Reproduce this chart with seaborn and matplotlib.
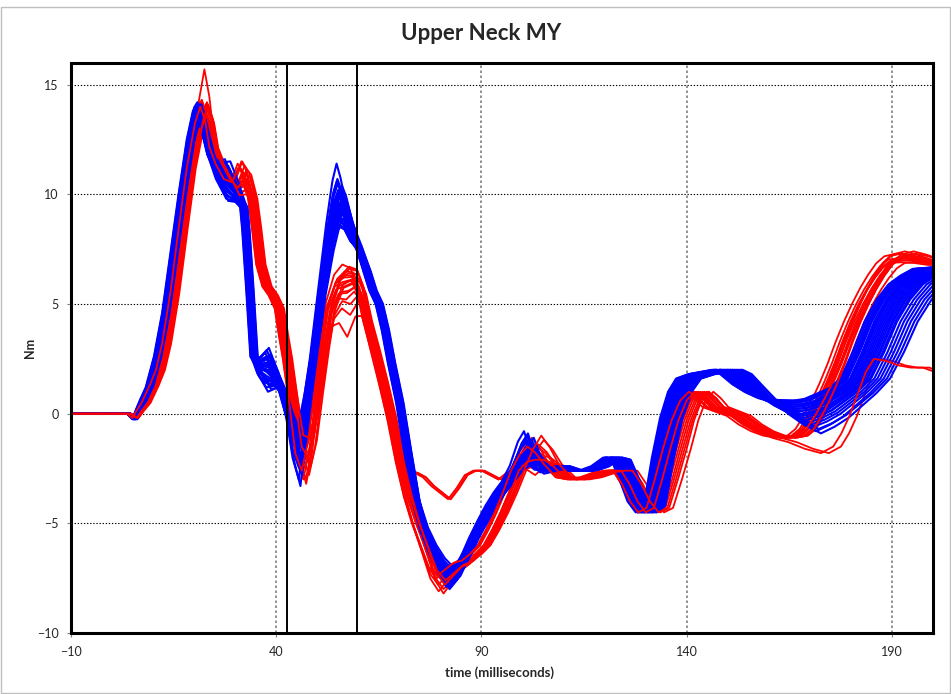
import numpy as np
import pandas as pd
import matplotlib
matplotlib.use("Agg")
import matplotlib.pyplot as plt
from matplotlib.patches import Rectangle
import seaborn as sns

sns.set_theme(style="white")
plt.rcParams["font.family"] = ["Lato", "DejaVu Sans"]

# ---------------------------------------------------------------- axes setup
x_ticks = [-10, 40, 90, 140, 190]
y_ticks = [-10, -5, 0, 5, 10, 15]
marker_times = [42.5, 59.7]

# ---------------------------------------------------------------- blue group
# typical blue trace: time (ms), moment (Nm)
blue_t = [-10, 4, 5.5, 6.5, 7.5, 9, 11, 13, 15, 17, 19, 20.5, 21.3, 22.5, 24, 26,
          28, 30, 32, 32.5, 33.5, 34.5, 36, 38, 40, 41.5, 43, 44.5, 46, 47.5, 49,
          51, 53, 54.5, 55.5, 56.5, 58, 60, 62, 63.5, 65, 66.5, 68, 70, 72, 74,
          76, 78, 80, 82, 84, 86, 88, 90, 92, 94, 96, 98, 100, 101.5, 103, 106,
          109, 112, 115, 118, 121, 123, 125, 127, 129, 131, 133, 135, 137, 139,
          142, 145, 148, 150, 153, 156, 159, 162, 165, 168, 171, 174, 177, 180,
          183, 186, 189, 192, 195, 198, 205, 215]
blue_v = [0, 0, -0.25, 0.2, 0.6, 1.2, 2.6, 4.6, 7.3, 10.0, 12.5, 13.8, 14.0, 13.0,
          11.8, 11.0, 10.6, 10.1, 9.4, 8.4, 5.6, 2.6, 2.1, 2.0, 1.6, 1.0, 0.0,
          -1.0, -1.2, 0.5, 2.5, 5.5, 8.0, 9.5, 10.0, 9.6, 8.6, 7.6, 6.5, 5.6, 5.0,
          3.8, 2.3, 0.5, -1.8, -4.0, -5.3, -6.2, -6.9, -7.4, -7.1, -6.4, -5.6,
          -4.9, -4.2, -3.6, -3.1, -2.5, -1.9, -1.8, -2.3, -2.6, -2.4, -2.6, -2.6,
          -2.4, -2.0, -2.1, -3.0, -4.0, -4.5, -4.2, -2.0, -0.2, 1.0, 1.6, 1.8, 1.9,
          2.0, 1.8, 1.3, 0.9, 0.6, 0.4, 0.3, 0.35, 0.5, 0.8, 1.1, 1.6, 2.8, 4.2,
          5.2, 5.9, 6.3, 6.6, 6.7, 6.7]

# per-trace readings for the blue group
blue_lag_rise = [-0.8, -0.6, -0.5, -0.4, -0.3, -0.2, -0.1, 0.0, 0.0, 0.1, 0.2, 0.2, 0.3, 0.4,
                 0.5, 0.6, 0.7, 0.8, 1.0, -0.7, -0.3, 0.1, 0.3, 0.5, 0.9, -0.5, 0.0, 0.6]
blue_lag_mid = [-1.5, 0.5, -1.0, 2.0, 0.0, 3.0, -0.5, 1.0, 2.5, -1.2, 1.5, 3.5, 0.2, -0.8,
                4.0, 0.8, 1.8, 2.8, 0.3, -0.3, 1.2, 2.2, 3.2, -1.0, 0.6, 1.6, 2.6, 3.8]
blue_lag_end = [-3.0, 1.0, -2.0, 5.0, 0.0, 8.0, -1.0, 2.0, 6.0, -2.5, 3.0, 10.0, 0.5, -1.5,
                12.0, 1.5, 4.0, 7.0, -0.5, -2.0, 2.5, 4.5, 9.0, -1.0, 0.0, 3.5, 5.5, 11.0]
blue_peak1 = [14.0, 13.8, 14.2, 13.6, 13.9, 13.4, 14.1, 13.7, 13.5, 14.0, 13.8, 13.3, 13.9, 14.1,
              13.2, 13.7, 13.6, 13.5, 13.8, 14.0, 13.9, 13.6, 13.4, 14.1, 13.7, 13.8, 13.5, 13.4]
blue_shelf = [11.2, 10.4, 11.6, 10.0, 10.8, 9.8, 11.4, 10.6, 10.2, 11.0, 10.5, 9.9, 11.3, 10.7,
              10.1, 10.9, 10.3, 11.5, 10.6, 10.0, 11.1, 10.4, 9.7, 11.2, 10.8, 10.2, 10.6, 11.0]
blue_floor = [2.0, 1.4, 2.6, 1.2, 2.9, 1.7, 2.3, 1.0, 2.5, 1.9, 3.0, 1.5, 2.2, 1.3, 2.7, 1.8,
              2.4, 1.1, 2.1, 2.8, 1.6, 2.0, 1.3, 2.6, 1.9, 2.3, 1.5, 2.2]
blue_dip1 = [-1.0, -0.5, -1.8, -2.5, -0.8, -1.2, -3.3, -0.4, -1.5, -2.0, -0.9, -1.3, -2.8, -0.6,
             -1.1, -1.6, -0.3, -2.2, -1.0, -1.4, -0.7, -1.9, -2.4, -0.5, -1.2, -3.0, -0.8, -1.7]
blue_peak2 = [11.4, 10.7, 10.5, 10.2, 9.9, 9.6, 9.3, 9.0, 8.8, 8.5, 10.0, 9.7, 9.4, 9.1,
              10.3, 9.8, 9.5, 9.2, 8.9, 10.6, 10.1, 9.6, 8.7, 10.4, 9.9, 9.0, 8.6, 9.3]
blue_min2 = [-7.6, -7.4, -7.9, -7.2, -7.5, -7.0, -7.8, -7.3, -7.6, -7.1, -7.7, -7.4, -7.5, -7.9,
             -7.2, -7.3, -7.6, -7.0, -7.8, -7.5, -7.4, -7.1, -7.7, -8.0, -7.3, -7.6, -7.2, -7.5]
blue_bump = [-0.8, -1.6, -2.0, -1.2, -2.2, -1.5, -1.0, -1.9, -2.4, -1.3, -1.7, -2.1, -1.4, -0.9,
             -2.3, -1.8, -1.1, -2.0, -1.6, -1.2, -2.2, -1.5, -1.9, -1.0, -1.7, -2.1, -1.4, -2.5]
blue_valley = [0.6, 0.3, 0.5, -0.2, 0.4, -0.5, 0.6, 0.2, -0.3, 0.5, 0.1, -0.8, 0.3, 0.5,
               -0.9, 0.2, 0.0, -0.4, 0.4, 0.6, 0.1, -0.1, -0.6, 0.5, 0.3, -0.1, -0.3, -0.7]

# ----------------------------------------------------------------- red group
red_t = [-10, 4, 5.5, 6.5, 8, 10, 11.5, 13, 15, 17, 19, 21, 22.3, 23.5, 24.5, 26, 28,
         30, 31.5, 32.5, 34, 35, 36, 37.5, 39, 40.5, 41.5, 42.5, 44, 45.5, 47, 48.5,
         50, 51.5, 53, 55, 57, 59, 60.5, 62, 64, 66, 68, 70, 72, 74, 76, 78, 80, 82,
         84, 86, 88, 90, 92, 94, 96, 98, 100, 102, 104, 106, 109, 112, 115, 118, 121,
         123, 125, 127, 129, 131, 133, 135, 137, 139, 141, 143, 145, 148, 151, 154,
         157, 160, 163, 166, 168, 170, 172, 174, 176, 178, 180, 182, 184, 186, 188,
         190, 193, 196, 200, 215]
red_v = [0, 0, -0.2, 0.1, 0.5, 1.3, 2.0, 3.2, 5.5, 8.4, 11.2, 13.3, 14.1, 13.4, 12.2,
         11.4, 10.7, 10.5, 11.1, 10.9, 9.8, 8.4, 6.8, 5.8, 5.4, 4.8, 3.6, 2.5, 0.5,
         -1.5, -2.0, -1.0, 1.0, 3.0, 4.8, 5.8, 6.0, 6.1, 5.5, 4.2, 2.8, 1.3, -0.3,
         -2.2, -3.8, -5.0, -6.0, -7.0, -7.4, -7.1, -6.8, -6.7, -6.4, -6.0, -5.3, -4.5,
         -3.6, -2.6, -1.8, -1.3, -1.7, -2.3, -2.9, -3.0, -2.9, -2.7, -2.6, -2.6, -3.2,
         -4.0, -4.5, -4.3, -3.0, -1.6, -0.3, 0.6, 1.0, 0.7, 0.3, 0.1, -0.1, -0.5, -0.8,
         -1.0, -1.1, -1.0, -0.7, -0.1, 0.6, 1.4, 2.3, 3.3, 4.2, 5.0, 5.7, 6.3, 6.8,
         7.1, 7.2, 7.1, 6.9, 6.9]

# per-trace readings for the red group
red_lag_rise = [-0.9, -0.6, -0.4, -0.2, 0.0, 0.2, 0.3, 0.5, 0.6, 0.8, 1.0, 1.2, 1.4, -0.5,
                0.2, 0.7, 1.1, -0.8]
red_lag_mid = [-1.0, 0.0, 1.0, 2.0, 3.0, 4.0, 5.0, 6.0, -0.5, 0.5, 1.5, 2.5, 3.5, 0.0,
               2.0, 4.5, 1.0, -0.8]
red_lag_end = [-2.0, -1.0, 0.0, 1.0, 2.0, 3.0, -1.5, 0.5, 1.5, 2.5, -0.5, 1.0, 2.0, 0.0,
               -1.0, 1.5, 0.5, 3.0]
red_peak1 = [14.2, 13.9, 14.3, 13.6, 14.0, 15.7, 13.8, 14.1, 13.7, 14.2, 13.5, 14.0, 13.8,
             14.3, 13.9, 13.6, 14.1, 14.0]
red_bulge = [11.4, 10.6, 11.2, 10.3, 11.5, 10.8, 10.1, 11.0, 10.5, 11.3, 10.2, 10.9, 11.1,
             10.4, 11.5, 10.7, 10.0, 11.2]
red_dip1 = [-2.0, -1.2, -3.0, -0.8, -2.5, -1.6, -3.2, -1.0, -2.2, -1.8, -2.8, -0.9, -2.4,
            -1.4, -3.0, -2.0, -1.1, -2.6]
red_peak2 = [6.8, 6.2, 5.8, 6.5, 5.2, 6.0, 3.5, 6.4, 5.6, 6.6, 4.5, 6.1, 5.9, 6.3, 5.5,
             6.7, 5.0, 6.0]
red_min2 = [-7.5, -7.8, -8.3, -7.2, -7.6, -8.0, -7.4, -7.0, -7.9, -8.2, -7.3, -7.7, -7.5,
            -8.1, -7.1, -7.6, -7.8, -7.4]
red_bump = [-1.3, -1.8, -1.1, -2.2, -1.5, -2.6, -1.9, -1.2, -2.4, -1.6, -2.0, -1.4, -2.3,
            -1.7, -2.8, -1.0, -2.1, -1.5]
red_end = [7.3, 7.1, 7.4, 7.0, 7.2, 6.9, 7.3, 7.1, 7.2, 7.4, 7.0, 7.2, 7.3, 7.1, 6.9,
           7.2, 7.0, 7.3]
red_shape = ["main", "main", "flat", "main", "main", "main", "main", "main", "flat",
             "main", "main", "main", "late", "main", "flat", "main", "late", "main"]

# red traces that level off near -3 Nm after the second peak
red_flat_t = [70, 72, 74, 76, 78, 80, 82, 84, 86, 88, 90, 92, 94, 96]
red_flat_v = [-2.2, -2.6, -2.7, -2.9, -3.3, -3.6, -3.9, -3.4, -2.8, -2.6, -2.6, -2.8,
              -3.0, -2.7]
# red traces with the delayed, low final rise
red_late_t = [160, 164, 168, 172, 175, 177, 179, 181, 183, 185, 188, 191, 194, 197, 200, 215]
red_late_v = [-1.1, -1.3, -1.6, -1.8, -1.5, -0.9, -0.1, 0.9, 1.9, 2.5, 2.4, 2.2, 2.1,
              2.1, 1.9, 1.8]


def feature(t, v, t0, width, target):
    """Move the value at keypoint t0 to target, tapering over +/- width ms."""
    base = np.interp(t0, t, v)
    w = np.clip(1 - np.abs(t - t0) / width, 0, None)
    return v + (target - base) * w


def splice(t, v, new_t, new_v):
    keep = (t < new_t[0]) | (t > new_t[-1])
    tt = np.concatenate([t[keep], new_t])
    vv = np.concatenate([v[keep], new_v])
    order = np.argsort(tt)
    return tt[order], vv[order]


def warp(t, a, b, c):
    return t + np.interp(t, [0, 8, 70, 135, 200], [0, a, a, b, c])


rows = []
blue_ids, red_ids = [], []

bt, bv = np.array(blue_t, float), np.array(blue_v, float)
for i in range(len(blue_lag_rise)):
    v = feature(bt, bv, 21.3, 4, blue_peak1[i])
    v = feature(bt, v, 28, 4, blue_shelf[i])
    v = feature(bt, v, 38, 3.5, blue_floor[i])
    v = feature(bt, v, 46, 3.5, blue_dip1[i])
    v = feature(bt, v, 55.5, 5, blue_peak2[i])
    v = feature(bt, v, 82, 8, blue_min2[i])
    v = feature(bt, v, 101.5, 4, blue_bump[i])
    v = feature(bt, v, 165, 14, blue_valley[i])
    t = warp(bt, blue_lag_rise[i], blue_lag_mid[i], blue_lag_end[i])
    name = f"b{i}"
    blue_ids.append(name)
    rows.append(pd.DataFrame({"time": t, "moment": v, "trace": name}))

rt, rv = np.array(red_t, float), np.array(red_v, float)
for i in range(len(red_lag_rise)):
    v = feature(rt, rv, 22.3, 3.5, red_peak1[i])
    v = feature(rt, v, 31.5, 3, red_bulge[i])
    v = feature(rt, v, 47, 3.5, red_dip1[i])
    v = feature(rt, v, 57, 6, red_peak2[i])
    v = feature(rt, v, 80, 8, red_min2[i])
    v = feature(rt, v, 102, 4, red_bump[i])
    t = rt.copy()
    if red_shape[i] == "flat":
        t, v = splice(t, v, np.array(red_flat_t, float), np.array(red_flat_v, float))
    if red_shape[i] == "late":
        t, v = splice(t, v, np.array(red_late_t, float), np.array(red_late_v, float))
    else:
        v = feature(t, v, 193, 12, red_end[i])
    t = warp(t, red_lag_rise[i], red_lag_mid[i], red_lag_end[i])
    name = f"r{i}"
    red_ids.append(name)
    rows.append(pd.DataFrame({"time": t, "moment": v, "trace": name}))

df = pd.concat(rows, ignore_index=True)

palette = {n: "#ff0000" for n in red_ids}
palette.update({n: "#0000ff" for n in blue_ids})

# ---------------------------------------------------------------- figure
fig = plt.figure(figsize=(9.51, 6.94), dpi=100)
ax = fig.add_axes([71 / 951, 1 - 633 / 694, (933 - 71) / 951, (633 - 62.7) / 694])

for y in [-5, 0, 5, 10, 15]:
    ax.axhline(y, color="black", lw=0.8, ls=(0, (1.2, 1.6)), zorder=0)
for x in [40, 90, 140, 190]:
    ax.axvline(x, color="#7f7f7f", lw=1.2, ls=(0, (1.5, 1.5)), zorder=0)

# most red traces underneath, the blue group over them, a few red on top
layers = [(red_ids[:15], 1.3), (blue_ids, 1.5), (red_ids[15:], 1.3)]
for ids, lw in layers:
    sub = df[df["trace"].isin(ids)]
    sns.lineplot(data=sub, x="time", y="moment", hue="trace", hue_order=ids,
                 palette=palette, units="trace", estimator=None, sort=False,
                 linewidth=lw, legend=False, ax=ax)

for xm in marker_times:
    ax.axvline(xm, color="black", lw=1.4, zorder=5)

ax.set_xlim(-10, 200)
ax.set_ylim(-10, 16)
ax.set_xticks(x_ticks)
ax.set_yticks(y_ticks)
ax.tick_params(axis="both", labelsize=9, length=3, width=0.8, color="#808080",
               direction="out", left=True, bottom=True, pad=6)
ax.set_xlabel("")
ax.set_ylabel("")
for s in ax.spines.values():
    s.set_color("black")
    s.set_linewidth(2.2)

fig.text(481 / 951, 1 - 33 / 694, "Upper Neck MY", ha="center", va="center",
         fontsize=16, fontweight="bold")
fig.text(30 / 951, 1 - 348 / 694, "Nm", ha="center", va="center", rotation=90,
         fontsize=9, fontweight="bold")
fig.text(500 / 951, 1 - 673 / 694, "time (milliseconds)", ha="center", va="center",
         fontsize=9.5, fontweight="bold")

fig.patches.append(Rectangle((1 / 951, 1 / 694), 949 / 951, 686 / 694,
                             transform=fig.transFigure, fill=False,
                             edgecolor="#bfbfbf", lw=1.0))

fig.savefig("out.png", dpi=100)
